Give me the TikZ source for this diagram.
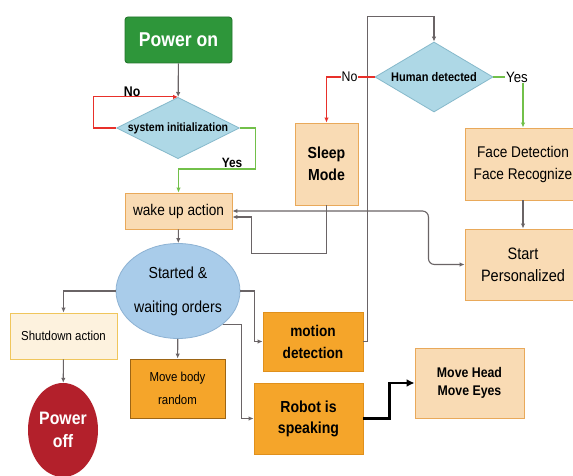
\documentclass[tikz,border=0pt]{standalone}
\usepackage{fontspec}
\setmainfont{Liberation Sans}[FakeStretch=0.88]
\usetikzlibrary{%
    arrows.meta,
    positioning,
    shapes.geometric
}
\definecolor{linkgray}{HTML}{6A6466}
\definecolor{noRed}{HTML}{E8302A}
\definecolor{yesGreen}{HTML}{72C04A}
\definecolor{powerGreen}{HTML}{2E963A}
\definecolor{powerEdge}{HTML}{23752C}
\definecolor{askBlue}{HTML}{AED8E6}
\definecolor{askEdge}{HTML}{86B9CB}
\definecolor{waitBlue}{HTML}{A9CCEA}
\definecolor{waitEdge}{HTML}{8DB2D3}
\definecolor{paleOrange}{HTML}{F9DBB4}
\definecolor{paleEdge}{HTML}{E9A95A}
\definecolor{creamFill}{HTML}{FDF2DE}
\definecolor{creamEdge}{HTML}{F0C65C}
\definecolor{deepOrange}{HTML}{F5A52A}
\definecolor{deepEdge}{HTML}{E0901C}
\definecolor{offRed}{HTML}{B3202B}
\newcommand\txtsz[2]{\fontsize{#1}{#2}\selectfont}
\tikzset{headarrow/.style = {-{Latex[length=5pt,width=4.5pt]}},
    linkline/.style  = {draw=linkgray, line width=1.1pt, headarrow},
    noline/.style    = {linkline, draw=noRed},
    yesline/.style   = {linkline, draw=yesGreen},
    box/.style       = {rectangle, draw, line width=0.9pt, inner sep=1pt, align=center},
    palebox/.style   = {box, fill=paleOrange, draw=paleEdge},
    deepbox/.style   = {box, fill=deepOrange, draw=deepEdge},
    askdiamond/.style= {diamond, draw=askEdge, fill=askBlue, line width=0.8pt, inner sep=0pt},
    branchlabel/.style = {inner sep=1pt, fill=white}
}

\begin{document}
\begin{tikzpicture}[x=1pt, y=-1pt]
    \useasboundingbox (0,0) rectangle (573,476);
    \fill[white] (0,0) rectangle (573,476);

    % left column
    \node[box, fill=powerGreen, draw=powerEdge, rounded corners=3pt, text=white,
          minimum width=107pt, minimum height=46pt, font=\txtsz{20}{24}\bfseries]
          (PowerOn) at (178.5,40) {Power on};
    \node[askdiamond, shape aspect=2, minimum width=123pt, minimum height=61pt,
          font=\txtsz{12}{14}\bfseries] (SysInit) at (178,128) {system initialization};
    \node[palebox, minimum width=107pt, minimum height=36pt, font=\txtsz{15.5}{18}]
          (Wake) at (178.5,211) {wake up action};
    \node[ellipse, draw=waitEdge, fill=waitBlue, line width=0.8pt, inner sep=0pt, align=center,
          minimum width=109pt, minimum height=95pt, font=\txtsz{16}{34}]
          (Waiting) at (178,291) {Started \&\\waiting orders};
    \node[box, fill=creamFill, draw=creamEdge, minimum width=107pt, minimum height=46pt,
          font=\txtsz{13}{16}] (Shutdown) at (63.5,336) {Shutdown action};
    \node[ellipse, fill=offRed, inner sep=0pt, align=center, text=white,
          minimum width=70pt, minimum height=94pt, font=\txtsz{18}{23}\bfseries]
          (PowerOff) at (63,430) {Power\\off};
    \node[deepbox, draw=deepEdge!70!black, minimum width=95pt, minimum height=59pt,
          font=\txtsz{13}{23}] (MoveBody) at (177.5,388.5) {Move body\\random};

    % middle column
    \node[deepbox, minimum width=100pt, minimum height=59pt, font=\txtsz{15.5}{22}\bfseries]
          (Motion) at (313,341.5) {motion\\detection};
    \node[deepbox, minimum width=109pt, minimum height=71pt, font=\txtsz{16}{21}\bfseries]
          (Speaking) at (308.5,418.5) {Robot is\\speaking};
    \node[palebox, minimum width=109pt, minimum height=70pt, font=\txtsz{14}{18}\bfseries]
          (MoveHead) at (469.5,383) {Move Head\\Move Eyes};
    \node[palebox, minimum width=63pt, minimum height=82pt, font=\txtsz{16}{22}\bfseries]
          (Sleep) at (326.5,164) {Sleep\\Mode};

    % right column
    \node[askdiamond, shape aspect=1.7, minimum width=118pt, minimum height=70pt,
          font=\txtsz{12.5}{15}\bfseries] (Human) at (434,77) {Human detected};
    \node[palebox, minimum width=116pt, minimum height=72pt, font=\txtsz{15.5}{22}]
          (Face) at (523,164) {Face Detection\\Face Recognize};
    \node[palebox, minimum width=116pt, minimum height=71pt, font=\txtsz{16.5}{22}]
          (Personal) at (523,264.5) {Start\\Personalized};

    % straight edges
    \foreach \Source/\Target in {%
        PowerOn/SysInit,
        Wake/Waiting,
        Shutdown/PowerOff,
        Waiting/MoveBody,
        Face/Personal%
        }
        \draw[linkline] (\Source) -- (\Target);

    % system initialization branches
    \draw[noline] (SysInit.west) -- ++(-23,0) |- (SysInit.north)
        node[pos=0.73, above=-4pt, font=\txtsz{14}{16}\bfseries] {No};
    \draw[yesline] (SysInit.east) -| ++(16,41)
        node[anchor=south east, xshift=-12pt, inner sep=1pt, font=\txtsz{13.5}{16}\bfseries] {Yes}
        -| (Wake.north);

    % waiting orders outputs
    \draw[linkline] (Waiting.west) -| (Shutdown.north);
    \draw[linkline] (Waiting.east) -- ++(14,0) |- (Motion.west);
    \draw[linkline] (Waiting.-37) -- ++(19,0) |- (Speaking.west);
    \draw[linkline, draw=black, line width=2.4pt, -{Latex[length=8pt,width=8pt]}]
        (Speaking.east) -- ++(26,0) |- (MoveHead.west);

    % motion loop to human detection
    \draw[linkline] (Motion.east) -- ++(4,0) |- ([yshift=25pt]Human.north) -- (Human.north);
    \draw[noline] (Human.west) -| (Sleep.north)
        node[pos=0.26, branchlabel, font=\txtsz{14}{16}] {No};
    \draw[yesline] (Human.east) -| (Face.north)
        node[pos=0.5, xshift=-6pt, branchlabel, font=\txtsz{15}{17}] {Yes};

    % back to wake up
    \draw[linkline] (Sleep.south) -- ++(0,48) -| ([xshift=19pt,yshift=-6pt]Wake.east)
        -- ([yshift=-6pt]Wake.east);
    \draw[linkline, {Latex[length=5pt,width=4.5pt]}-{Latex[length=5pt,width=4.5pt]},
          rounded corners=6pt] (Wake.east) -- ++(196,0) |- (Personal.west);
\end{tikzpicture}
\end{document}
